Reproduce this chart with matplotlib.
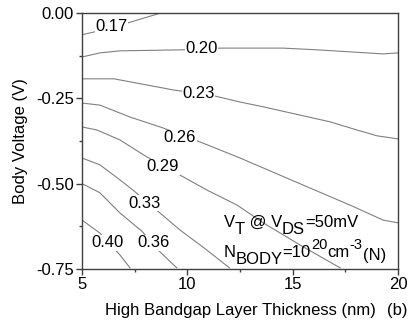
import matplotlib
matplotlib.use("Agg")
import matplotlib.pyplot as plt
import numpy as np

plt.rcParams['font.family'] = ['Liberation Sans', 'DejaVu Sans']

# iso-V_T lines: thickness (nm) -> body voltage (V)
levels = ["0.17", "0.20", "0.23", "0.26", "0.29", "0.33", "0.36", "0.40"]
line_x = [
    [5.0, 5.76, 7.18, 8.75],
    [5.0, 5.85, 6.8, 9.79, 11.55, 14.54, 16.15, 19.29, 20.0],
    [5.0, 6.52, 7.56, 9.37, 11.07, 12.5, 13.6, 16.77, 18.05, 19.0, 20.0],
    [5.0, 5.85, 7.28, 8.85, 10.36, 12.5, 15.82, 17.72, 19.29, 20.0],
    [5.0, 5.71, 6.8, 8.08, 9.65, 10.93, 12.36, 13.6, 15.35, 17.25],
    [5.0, 5.85, 6.8, 7.42, 8.7, 9.65, 10.74, 12.0],
    [5.0, 5.85, 6.8, 7.85, 8.7, 9.5],
    [5.0, 5.85, 6.8, 7.28],
]
line_y = [
    [-0.064, -0.053, -0.029, 0.0],
    [-0.129, -0.117, -0.111, -0.108, -0.103, -0.103, -0.108, -0.120, -0.117],
    [-0.193, -0.193, -0.205, -0.226, -0.240, -0.261, -0.275, -0.319, -0.343, -0.360, -0.369],
    [-0.264, -0.270, -0.305, -0.337, -0.372, -0.425, -0.513, -0.563, -0.607, -0.615],
    [-0.334, -0.343, -0.372, -0.422, -0.475, -0.519, -0.563, -0.615, -0.680, -0.747],
    [-0.425, -0.445, -0.489, -0.519, -0.586, -0.636, -0.686, -0.747],
    [-0.500, -0.527, -0.586, -0.640, -0.700, -0.747],
    [-0.607, -0.645, -0.709, -0.747],
]
# where the inline labels sit
label_pos = [(6.42, -0.041), (10.65, -0.105), (10.55, -0.237), (9.65, -0.366),
             (8.84, -0.451), (7.95, -0.557), (8.4, -0.674), (6.2, -0.674)]

fig = plt.figure(figsize=(4.1, 3.24), dpi=100)
ax = fig.add_axes([0.2, 0.17, 0.771, 0.79])

for xs, ys in zip(line_x, line_y):
    ax.plot(xs, ys, color='#808080', lw=0.8, zorder=2)

for lab, (lx, ly) in zip(levels, label_pos):
    ax.text(lx, ly, lab, fontsize=12, ha='center', va='center', zorder=3,
            bbox=dict(facecolor='white', edgecolor='none', pad=0.3))


def rich_text(x, y, pieces):
    # pieces: (text, fontsize, baseline shift in points)
    prev = ax.text(x, y, pieces[0][0], fontsize=pieces[0][1], va='baseline', zorder=4)
    prev_dy = pieces[0][2]
    for txt, fs, dy in pieces[1:]:
        prev = ax.annotate(txt, xy=(1, 0), xycoords=prev, xytext=(0, dy - prev_dy),
                           textcoords='offset points', fontsize=fs, va='bottom', zorder=4)
        prev_dy = dy


rich_text(11.72, -0.627, [("V", 12, 0), ("T", 12, -5), (" @ V", 12, 0),
                          ("DS", 12, -5), ("=50mV", 12, 0)])
rich_text(11.72, -0.715, [("N", 12, 0), ("BODY", 12, -5), ("=10", 12, 0),
                          ("20", 10.5, 6), ("cm", 12, 0), ("-3", 10.5, 6),
                          ("(N)", 12, -2)])

ax.set_xlim(5, 20)
ax.set_ylim(-0.75, 0.0)
ax.set_xticks([5, 10, 15, 20])
ax.set_xticks([7.5, 12.5, 17.5], minor=True)
ax.set_yticks([0.0, -0.25, -0.5, -0.75])
ax.set_yticks([-0.125, -0.375, -0.625], minor=True)
ax.set_yticklabels(['0.00', '-0.25', '-0.50', '-0.75'])
ax.tick_params(which='major', direction='out', length=4, width=1, color='#404040',
               labelsize=12, pad=2)
ax.tick_params(which='minor', direction='out', length=2.5, width=1, color='#404040')
for s in ax.spines.values():
    s.set_color('#404040')
    s.set_linewidth(1)

ax.set_xlabel('High Bandgap Layer Thickness (nm)', fontsize=12, labelpad=8)
ax.set_ylabel('Body Voltage (V)', fontsize=12, labelpad=5.5)
fig.text(0.943, 0.043, '(b)', fontsize=12, ha='left', va='center')

fig.savefig('out.png', dpi=100)
